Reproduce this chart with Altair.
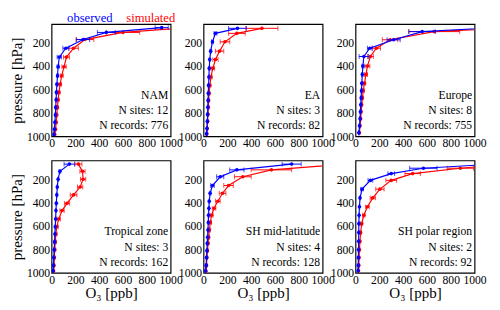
import altair as alt
import pandas as pd

REGIONS = ["NAM", "EA", "Europe", "Tropical zone", "SH mid-latitude", "SH polar region"]
N_SITES = [12, 3, 8, 3, 4, 2]
N_RECORDS = [776, 82, 755, 162, 128, 92]

NAM_P = [71, 112, 173, 247, 323, 405, 482, 556, 625, 688, 753, 817, 880, 940, 985]
NAM_OBS = [925, 460, 265, 120, 65, 55, 50, 45, 41, 38, 35, 32, 28, 24, 20]
NAM_OBS_ERR = [55, 75, 55, 25, 18, 8, 6, 6, 5, 5, 5, 5, 4, 4, 4]
NAM_SIM = [1150, 600, 280, 185, 125, 105, 85, 72, 62, 55, 49, 44, 39, 33, 27]
NAM_SIM_ERR = [100, 140, 75, 40, 25, 18, 12, 10, 8, 8, 7, 6, 6, 5, 5]

EA_P = [77, 120, 192, 272, 344, 419, 493, 565, 632, 693, 752, 813, 872, 933, 979]
EA_OBS = [285, 100, 75, 60, 52, 48, 45, 42, 40, 38, 36, 34, 32, 29, 26]
EA_OBS_ERR = [75, 12, 8, 6, 5, 5, 5, 4, 4, 4, 4, 4, 4, 4, 4]
EA_SIM = [490, 280, 180, 135, 100, 78, 62, 53, 47, 43, 40, 37, 34, 30, 27]
EA_SIM_ERR = [135, 70, 40, 35, 22, 15, 10, 8, 7, 6, 6, 5, 5, 5, 4]

EU_P = [70, 105, 175, 247, 318, 400, 472, 547, 611, 672, 730, 790, 850, 910, 970]
EU_OBS = [1200, 560, 320, 120, 70, 62, 57, 53, 50, 47, 44, 41, 38, 34, 28]
EU_OBS_ERR = [60, 110, 55, 20, 40, 8, 6, 5, 5, 5, 4, 4, 4, 4, 4]
EU_SIM = [1400, 660, 290, 175, 125, 100, 88, 75, 65, 58, 52, 47, 43, 38, 32]
EU_SIM_ERR = [100, 215, 65, 35, 25, 20, 12, 10, 8, 7, 6, 6, 5, 5, 5]

TR_P = [71, 133, 200, 267, 334, 406, 468, 540, 607, 669, 736, 803, 870, 937, 985]
TR_OBS = [150, 70, 55, 48, 44, 40, 37, 34, 31, 28, 25, 22, 19, 16, 14]
TR_OBS_ERR = [45, 6, 5, 4, 4, 4, 4, 3, 3, 3, 3, 3, 3, 3, 3]
TR_SIM = [225, 260, 265, 240, 185, 130, 88, 60, 44, 36, 31, 27, 23, 20, 17]
TR_SIM_ERR = [30, 22, 22, 22, 28, 22, 18, 14, 12, 10, 9, 8, 7, 6, 5]

SM_P = [71, 120, 179, 254, 320, 388, 449, 508, 570, 634, 696, 749, 811, 870, 937, 985]
SM_OBS = [740, 280, 140, 75, 55, 48, 45, 42, 40, 37, 34, 31, 28, 25, 22, 18]
SM_OBS_ERR = [80, 60, 30, 15, 6, 4, 4, 4, 3, 3, 3, 3, 3, 3, 3, 3]
SM_SIM = [1200, 570, 330, 210, 160, 120, 88, 68, 57, 49, 43, 38, 33, 29, 25, 20]
SM_SIM_ERR = [120, 170, 70, 40, 28, 20, 15, 12, 10, 8, 7, 6, 6, 5, 5, 4]

SP_P = [72, 106, 152, 210, 285, 360, 436, 508, 580, 656, 731, 803, 870, 937, 983]
SP_OBS = [1150, 570, 300, 125, 55, 38, 33, 30, 28, 27, 26, 25, 24, 23, 22]
SP_OBS_ERR = [60, 115, 28, 20, 10, 4, 3, 3, 3, 3, 3, 3, 3, 3, 3]
SP_SIM = [1300, 880, 480, 300, 205, 145, 100, 70, 52, 43, 37, 33, 30, 28, 25]
SP_SIM_ERR = [80, 110, 65, 45, 35, 22, 15, 10, 8, 7, 6, 5, 5, 5, 4]

X_TICKS = [0, 200, 400, 600, 800, 1000]
Y_TICKS = [200, 400, 600, 800, 1000]

PANEL_DATA = [
    (NAM_P, NAM_OBS, NAM_OBS_ERR, NAM_SIM, NAM_SIM_ERR),
    (EA_P, EA_OBS, EA_OBS_ERR, EA_SIM, EA_SIM_ERR),
    (EU_P, EU_OBS, EU_OBS_ERR, EU_SIM, EU_SIM_ERR),
    (TR_P, TR_OBS, TR_OBS_ERR, TR_SIM, TR_SIM_ERR),
    (SM_P, SM_OBS, SM_OBS_ERR, SM_SIM, SM_SIM_ERR),
    (SP_P, SP_OBS, SP_OBS_ERR, SP_SIM, SP_SIM_ERR),
]

W, H = 123, 116
FONT = "Liberation Serif"
COLORS = {"observed": "#0000ff", "simulated": "#ff0000"}


def series_df(P, vals, errs):
    return pd.DataFrame({
        "p": P,
        "value": vals,
        "lo": [v - e for v, e in zip(vals, errs)],
        "hi": [v + e for v, e in zip(vals, errs)],
    })


xs = alt.Scale(domain=[0, 1000], nice=False, zero=False)
ys = alt.Scale(domain=[40, 1000], reverse=True, nice=False, zero=False)


def panel(i):
    P, OBS, OBS_ERR, SIM, SIM_ERR = PANEL_DATA[i]
    row, col = divmod(i, 3)
    xtitle = "O₃  [ppb]" if row == 1 else None
    ytitle = "pressure [hPa]" if col == 0 else None
    xaxis = alt.Axis(values=X_TICKS, format="d", titlePadding=1)
    yaxis = alt.Axis(values=Y_TICKS, format="d", titlePadding=2)

    def X(f):
        return alt.X(f, scale=xs, axis=xaxis, title=xtitle)

    def Y(f):
        return alt.Y(f, scale=ys, axis=yaxis, title=ytitle)

    layers = []
    for name, vals, errs in [("simulated", SIM, SIM_ERR), ("observed", OBS, OBS_ERR)]:
        c = COLORS[name]
        base = alt.Chart(series_df(P, vals, errs))
        layers.append(base.mark_rule(color=c, strokeWidth=1, clip=True).encode(
            x=X("lo:Q"), x2="hi:Q", y=Y("p:Q")))
        layers.append(base.transform_fold(["lo", "hi"], as_=["end", "xe"]).mark_tick(
            color=c, orient="vertical", size=5, thickness=1, clip=True).encode(
            x=X("xe:Q"), y=Y("p:Q")))
        layers.append(base.mark_line(color=c, strokeWidth=1.2, clip=True).encode(
            x=X("value:Q"), y=Y("p:Q"), order="p:Q"))
        layers.append(base.mark_circle(color=c, size=14, opacity=1, clip=True).encode(
            x=X("value:Q"), y=Y("p:Q")))

    lines = [REGIONS[i], f"N sites: {N_SITES[i]}", f"N records: {N_RECORDS[i]}"]
    offs = [43, 27, 11.5]
    for t, o in zip(lines, offs):
        layers.append(alt.Chart(pd.DataFrame({"t": [t]})).mark_text(
            align="right", baseline="middle", font=FONT, fontSize=12, color="black").encode(
            text="t:N", x=alt.value(W - 2.5), y=alt.value(H - o)))

    if i == 0:
        for t, xv in [("observed", 39.5), ("simulated", 102.5)]:
            layers.append(alt.Chart(pd.DataFrame({"t": [t]})).mark_text(
                align="center", baseline="middle", font=FONT, fontSize=13,
                color=COLORS[t]).encode(text="t:N", x=alt.value(xv), y=alt.value(-6)))

    return alt.layer(*layers).properties(width=W, height=H)


chart = alt.concat(*[panel(i) for i in range(6)], columns=3,
                   spacing={"row": 25, "column": 34}, bounds="flush").properties(
    padding={"left": 1, "top": -1.5, "right": 5, "bottom": 5}
).configure_view(stroke="black", strokeWidth=1.2).configure_axis(
    labelFont=FONT, labelFontSize=12, labelColor="black", titleFont=FONT,
    titleFontSize=15.5, titleFontWeight="normal", titleColor="black", grid=False,
    ticks=False, domain=False, labelPadding=2, labelFlush=False, labelOverlap=False)

chart.save("out.html", embed_options={"renderer": "svg", "actions": False})
